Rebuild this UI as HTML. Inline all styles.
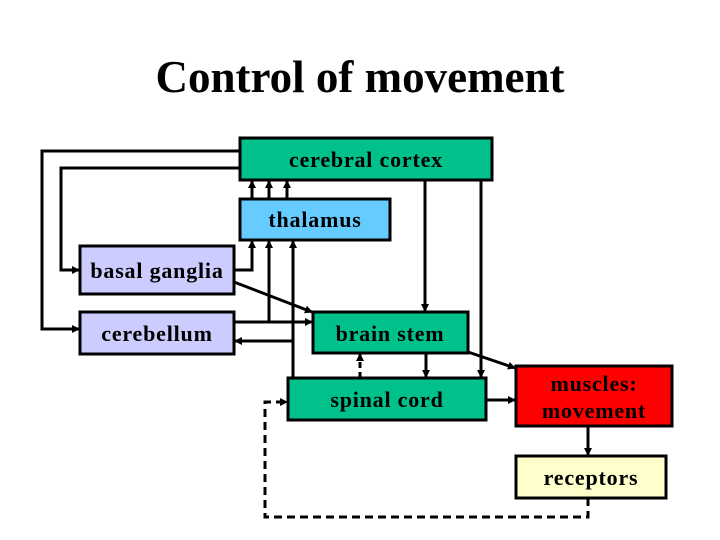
<!DOCTYPE html>
<html><head><style>
body{margin:0;width:720px;height:540px;background:#fff;overflow:hidden}
svg{display:block}
text{font-family:"Liberation Serif",serif;font-weight:bold;fill:#000}
</style></head><body>
<svg width="720" height="540" viewBox="0 0 720 540">
<defs>
<marker id="a" markerWidth="8" markerHeight="8" refX="7" refY="4" orient="auto" markerUnits="userSpaceOnUse">
<path d="M0,0 L8,4 L0,8 z" fill="#000"/></marker>
</defs>
<text x="360" y="92" font-size="45" text-anchor="middle">Control of movement</text>
<g stroke="#000" stroke-width="3">
<rect x="240" y="138" width="252" height="42" fill="#00c08c"/>
<rect x="240" y="199" width="150" height="41" fill="#66ccff"/>
<rect x="80" y="246" width="154" height="48" fill="#ccccff"/>
<rect x="80" y="312" width="154" height="42" fill="#ccccff"/>
<rect x="313" y="312" width="155" height="41" fill="#00c08c"/>
<rect x="288" y="378" width="198" height="42" fill="#00c08c"/>
<rect x="516" y="366" width="156" height="60" fill="#ff0000"/>
<rect x="516" y="456" width="150" height="42" fill="#ffffcc"/>
</g>
<g stroke="#000" stroke-width="3" fill="none">
<polyline points="240,151 42,151 42,329 79,329" marker-end="url(#a)"/>
<polyline points="240,168 61,168 61,270 79,270" marker-end="url(#a)"/>
<line x1="252" y1="199" x2="252" y2="181" marker-end="url(#a)"/>
<line x1="269" y1="199" x2="269" y2="181" marker-end="url(#a)"/>
<line x1="287" y1="199" x2="287" y2="181" marker-end="url(#a)"/>
<polyline points="234,270 252,270 252,241" marker-end="url(#a)"/>
<polyline points="234,322 269,322 269,241" marker-end="url(#a)"/>
<line x1="269" y1="322" x2="312" y2="322" marker-end="url(#a)"/>
<line x1="293" y1="378" x2="293" y2="241" marker-end="url(#a)"/>
<line x1="293" y1="341" x2="235" y2="341" marker-end="url(#a)"/>
<line x1="234" y1="282" x2="312" y2="312" marker-end="url(#a)"/>
<line x1="425" y1="180" x2="425" y2="311" marker-end="url(#a)"/>
<line x1="481" y1="180" x2="481" y2="377" marker-end="url(#a)"/>
<line x1="468" y1="352" x2="515" y2="368" marker-end="url(#a)"/>
<line x1="426" y1="353" x2="426" y2="377" marker-end="url(#a)"/>
<line x1="360" y1="378" x2="360" y2="354" stroke-dasharray="6,4" marker-end="url(#a)"/>
<line x1="486" y1="400" x2="515" y2="400" marker-end="url(#a)"/>
<line x1="588" y1="426" x2="588" y2="455" marker-end="url(#a)"/>
<polyline points="588,498 588,517 265,517 265,402 287,402" stroke-dasharray="8,5" marker-end="url(#a)"/>
</g>
<g font-size="22" text-anchor="middle" letter-spacing="0.8">
<text x="366" y="167">cerebral cortex</text>
<text x="315" y="227">thalamus</text>
<text x="157" y="278">basal ganglia</text>
<text x="157" y="341">cerebellum</text>
<text x="390" y="341">brain stem</text>
<text x="387" y="407">spinal cord</text>
<text x="594" y="391">muscles:</text>
<text x="594" y="418">movement</text>
<text x="591" y="485">receptors</text>
</g>
</svg>
</body></html>
